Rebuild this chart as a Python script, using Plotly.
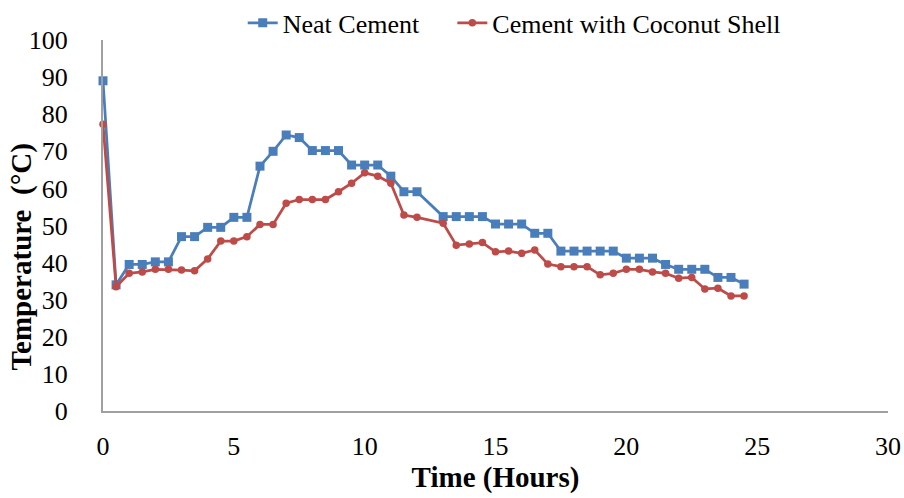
import plotly.graph_objects as go

# Elapsed hydration time (hours)
time_h = [0, 0.5, 1, 1.5, 2, 2.5, 3, 3.5, 4, 4.5, 5, 5.5, 6, 6.5, 7, 7.5, 8, 8.5,
          9, 9.5, 10, 10.5, 11, 11.5, 12, 13, 13.5, 14, 14.5, 15, 15.5, 16, 16.5,
          17, 17.5, 18, 18.5, 19, 19.5, 20, 20.5, 21, 21.5, 22, 22.5, 23, 23.5,
          24, 24.5]

# Temperature (°C)
neat_cement = [89, 34, 39.5, 39.5, 40.2, 40.2, 47, 47, 49.5, 49.5, 52.2, 52.2,
               66, 70, 74.4, 73.7, 70.2, 70.2, 70.2, 66.3, 66.3, 66.3, 63.3,
               59.1, 59.1, 52.4, 52.4, 52.4, 52.4, 50.4, 50.4, 50.4, 47.9, 47.9,
               43.1, 43.1, 43.1, 43.1, 43.1, 41.2, 41.2, 41.2, 39.5, 38.2, 38.2,
               38.2, 36, 36, 34.2]

coconut_shell = [77.3, 33.5, 37.1, 37.5, 38.2, 38.2, 38, 37.8, 41, 45.8, 45.8,
                 47, 50.3, 50.3, 56, 57, 57, 57, 59.1, 61.4, 64.2, 63.3, 61.4,
                 52.8, 52.2, 50.6, 44.7, 45, 45.4, 42.9, 43.1, 42.5, 43.4, 39.6,
                 38.9, 38.9, 38.9, 36.7, 37.1, 38.2, 38.2, 37.5, 37.1, 35.8, 36,
                 32.9, 33.1, 31, 31]

x_ticks = [0, 5, 10, 15, 20, 25, 30]
y_ticks = [0, 10, 20, 30, 40, 50, 60, 70, 80, 90, 100]

FONT = "Liberation Serif"
TICK_FONT = dict(family=FONT, size=26, color="black")
TITLE_FONT = dict(family=FONT, size=29, color="black")
LEGEND_FONT = dict(family=FONT, size=26, color="black")

fig = go.Figure()
fig.add_trace(go.Scatter(
    x=time_h, y=neat_cement, name="Neat Cement", mode="lines+markers",
    line=dict(color="#4A7EBB", width=2.75),
    marker=dict(symbol="square", size=9, color="#4A7EBB"),
    cliponaxis=False, legend="legend",
))
fig.add_trace(go.Scatter(
    x=time_h, y=coconut_shell, name="Cement with Coconut Shell", mode="lines+markers",
    line=dict(color="#BE4B48", width=2.75),
    marker=dict(symbol="circle", size=7.5, color="#BE4B48"),
    cliponaxis=False, legend="legend2",
))

legend_common = dict(
    orientation="h", xanchor="left", yanchor="middle", y=1.046,
    font=LEGEND_FONT, bgcolor="rgba(0,0,0,0)", itemwidth=30,
)

fig.update_layout(
    width=904, height=498,
    margin=dict(l=103, r=16, t=40, b=87, autoexpand=False),
    paper_bgcolor="white", plot_bgcolor="white",
    font=dict(family=FONT, size=26, color="black"),
    showlegend=True,
    legend=dict(x=0.178, **legend_common),
    legend2=dict(x=0.445, **legend_common),
    xaxis=dict(
        range=[0, 30], tickvals=x_ticks, showgrid=False, zeroline=False,
        showline=True, linecolor="#A0A0A0", linewidth=2,
        ticks="", ticklabelstandoff=11, tickfont=TICK_FONT,
        title=dict(text="<b>Time (Hours)</b>", font=TITLE_FONT, standoff=2),
    ),
    yaxis=dict(
        range=[0, 100], tickvals=y_ticks, showgrid=False, zeroline=False,
        showline=True, linecolor="#A0A0A0", linewidth=2,
        ticks="", ticklabelstandoff=28, tickfont=TICK_FONT,
    ),
)

# Vertical axis title, placed low along the axis
fig.add_annotation(
    text="<b>Temperature  (°C)</b>", textangle=-90,
    xref="paper", yref="paper", x=-0.105, y=0.415,
    xanchor="center", yanchor="middle", showarrow=False, font=TITLE_FONT,
)

fig.write_html("out.html")
